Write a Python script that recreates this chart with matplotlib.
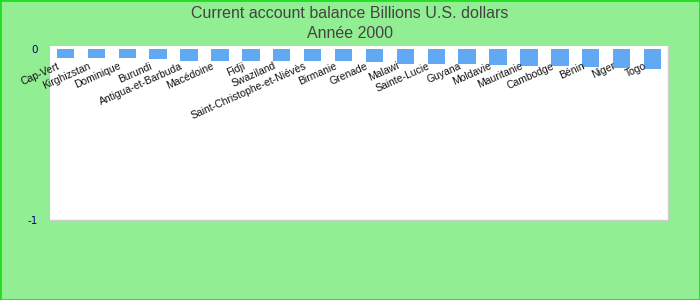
import matplotlib
matplotlib.use("Agg")
import matplotlib.pyplot as plt
from matplotlib.patches import Rectangle

countries = ["Cap-Vert", "Kirghizstan", "Dominique", "Burundi", "Antigua-et-Barbuda",
             "Macédoine", "Fidji", "Swaziland", "Saint-Christophe-et-Niévès", "Birmanie",
             "Grenade", "Malawi", "Sainte-Lucie", "Guyana", "Moldavie",
             "Mauritanie", "Cambodge", "Bénin", "Niger", "Togo"]
values = [-0.056, -0.057, -0.057, -0.058, -0.07,
          -0.07, -0.07, -0.07, -0.071, -0.072,
          -0.076, -0.09, -0.09, -0.09, -0.096,
          -0.1, -0.102, -0.106, -0.112, -0.12]
title_lines = ["Current account balance Billions U.S. dollars", "Année 2000"]
yticks = [0, -1]

plt.rcParams['font.family'] = ['Liberation Sans', 'DejaVu Sans']

fig = plt.figure(figsize=(7, 3), dpi=100)
fig.patch.set_facecolor('#92ee92')
fig.patches.append(Rectangle((0, 0), 1, 1, transform=fig.transFigure, fill=False,
                             edgecolor='#22dd22', linewidth=2, zorder=10))

ax = fig.add_axes([50/700, 80/300, 618/700, 174/300])
ax.set_facecolor('white')
x = list(range(len(countries)))
ax.bar(x, values, width=0.56, color='#62a9f4', zorder=2)
ax.set_xlim(-0.5, len(countries) - 0.5)
ax.set_ylim(-1, 0.015)
ax.set_xticks([])
ax.set_yticks(yticks)
ax.set_yticklabels([str(t) for t in yticks], family='DejaVu Sans', fontsize=7.5, color='#000080')
ax.tick_params(axis='y', length=0, pad=9)
for s in ['top', 'left']:
    ax.spines[s].set_visible(False)
for s in ['right', 'bottom']:
    ax.spines[s].set_color('#cccccc')
    ax.spines[s].set_linewidth(1)

for xi, name in zip(x, countries):
    ax.text(xi - 0.28, -0.072, name, rotation=24, rotation_mode='anchor',
            ha='right', va='top', fontsize=7.5, color='#111111', zorder=3)

fig.text(0.5, 1 - 13/300, title_lines[0], ha='center', va='center', fontsize=11.5, color='#444444')
fig.text(0.5, 1 - 34/300, title_lines[1], ha='center', va='center', fontsize=11.5, color='#444444')

fig.savefig('out.png', dpi=100, facecolor=fig.get_facecolor())
